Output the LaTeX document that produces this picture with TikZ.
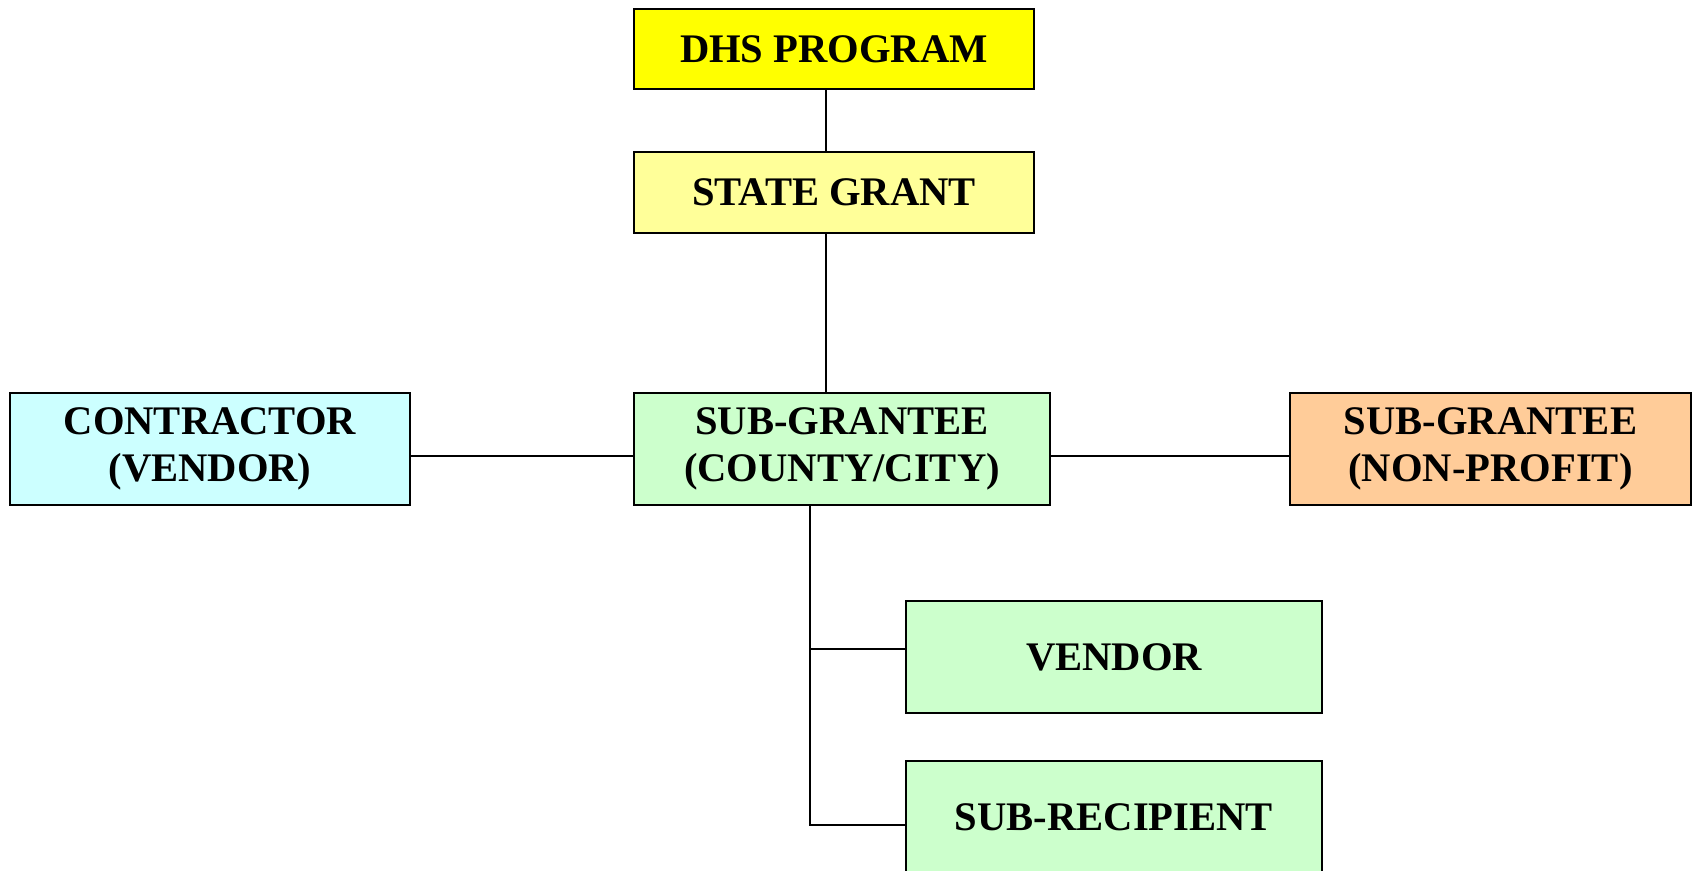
\documentclass[tikz,border=0pt]{standalone}
\usepackage{fontspec}
\setmainfont{Liberation Serif}
\usepackage{tikz}

\definecolor{dhsyellow}{HTML}{FFFF00}
\definecolor{paleyellow}{HTML}{FFFF99}
\definecolor{palecyan}{HTML}{CCFFFF}
\definecolor{palegreen}{HTML}{CCFFCC}
\definecolor{paleorange}{HTML}{FFCC99}

\tikzset{
	orgbox/.style={draw, line width=0.9pt, minimum width=200pt, minimum height=56pt,
		align=center, inner sep=2pt,
		font=\fontsize{20.3}{23.5}\selectfont\bfseries},
	link/.style={line width=0.9pt}
}

\begin{document}
\begin{tikzpicture}[x=0.5pt,y=-0.5pt]
	\useasboundingbox (0,0) rectangle (1696,871);
	\node [orgbox, fill=dhsyellow, minimum height=40pt] (dhs) at (834,49) {DHS PROGRAM};
	\node [orgbox, fill=paleyellow, minimum height=40.5pt] (state) at (834,192.5) {STATE GRANT};
	\node [orgbox, fill=palegreen, minimum width=208pt] (county) at (842,449) {SUB-GRANTEE\\(COUNTY/CITY)};
	\node [orgbox, fill=palecyan] (contractor) at (210,449) {CONTRACTOR\\(VENDOR)};
	\node [orgbox, fill=paleorange, minimum width=200.5pt] (nonprofit) at (1490.5,449) {SUB-GRANTEE\\(NON-PROFIT)};
	\node [orgbox, fill=palegreen, minimum width=208pt] (vendor) at (1114,657) {VENDOR};
	\node [orgbox, fill=palegreen, minimum width=208pt] (recip) at (1114,817) {SUB-RECIPIENT};
	\coordinate (trunk) at ([xshift=-16pt]county.south);
	\draw [link] ([xshift=-4pt]dhs.south) -- ([xshift=-4pt]state.north);
	\draw [link] ([xshift=-4pt]state.south) -- ([xshift=-4pt]state.south |- county.north);
	\draw [link] ([yshift=-3.5pt]contractor.east) -- ([yshift=-3.5pt]county.west);
	\draw [link] ([yshift=-3.5pt]county.east) -- ([yshift=-3.5pt]nonprofit.west);
	\draw [link] (trunk) |- ([yshift=4pt]vendor.west);
	\draw [link] (trunk) |- ([yshift=-4pt]recip.west);
\end{tikzpicture}
\end{document}
